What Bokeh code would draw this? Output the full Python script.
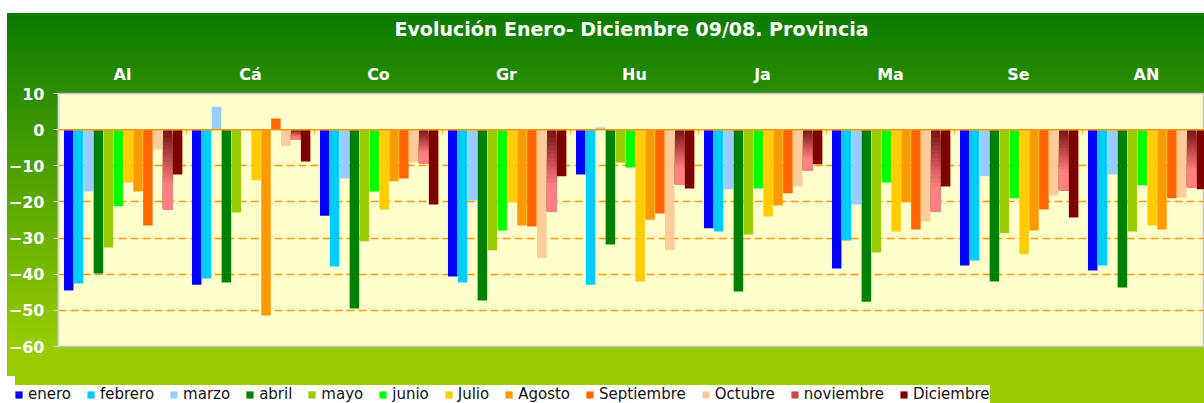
import numpy as np
from bokeh.plotting import figure
from bokeh.layouts import column
from bokeh.models import (ColumnDataSource, Range1d, FixedTicker, Legend,
                          LegendItem, Span)
from bokeh.embed import file_html
from bokeh.resources import INLINE

# ---------------- data ----------------
provincias = ["Al", "Cá", "Co", "Gr", "Hu", "Ja", "Ma", "Se", "AN"]
meses = ["enero", "febrero", "marzo", "abril", "mayo", "junio", "Julio",
         "Agosto", "Septiembre", "Octubre", "noviembre", "Diciembre"]

enero      = [-44.5, -42.9, -23.8, -40.6, -12.4, -27.3, -38.4, -37.6, -39.0]
febrero    = [-42.6, -41.2, -37.9, -42.3, -42.9, -28.2, -30.7, -36.2, -37.6]
marzo      = [-17.1,   6.3, -13.5, -19.6,   0.6, -16.5, -20.7, -12.9, -12.4]
abril      = [-39.8, -42.3, -49.5, -47.3, -31.8, -44.8, -47.6, -42.0, -43.7]
mayo       = [-32.6, -22.9, -30.9, -33.4,  -9.1, -29.0, -34.0, -28.7, -28.2]
junio      = [-21.2, float("nan"), -17.1, -27.9, -10.5, -16.3, -14.6, -19.0, -15.4]
julio      = [-14.6, -14.0, -22.1, -20.1, -42.0, -24.0, -28.2, -34.5, -26.5]
agosto     = [-17.1, -51.4, -14.3, -26.5, -24.9, -21.0, -20.1, -27.9, -27.6]
septiembre = [-26.5,   3.1, -13.5, -26.8, -23.2, -17.6, -27.6, -22.1, -19.0]
octubre    = [ -5.5,  -4.6,  -9.1, -35.6, -33.4, -15.7, -25.4, -18.2, -18.8]
noviembre  = [-22.1,  -2.9,  -9.4, -22.6, -15.2, -11.3, -22.6, -16.8, -16.0]
diciembre  = [-12.4,  -8.8, -20.7, -12.9, -16.3,  -9.6, -15.7, -24.3, -16.5]

series = [enero, febrero, marzo, abril, mayo, junio, julio, agosto,
          septiembre, octubre, noviembre, diciembre]
colores = ["#0000FF", "#00CCFF", "#99CCFF", "#008000", "#99CC00", "#00FF00",
           "#FFCC00", "#FF9900", "#FF6600", "#FFCC99", None, "#800000"]
nov_top, nov_bottom = (122, 16, 16), (255, 128, 128)
nov_legend = "#C24A4A"

y_ticks = [10, 0, -10, -20, -30, -40, -50, -60]
titulo = "Evolución Enero- Diciembre 09/08. Provincia"

# ---------------- layout constants ----------------
GROUP_PX = 128.0
FRAME_W = 1146
STEP = 9.9 / GROUP_PX
BAR_W = 9.5 / GROUP_PX
FIRST = 0.0797

p = figure(width=1204, height=376, output_backend="svg", toolbar_location=None,
           x_range=Range1d(0, FRAME_W / GROUP_PX), y_range=Range1d(-60, 10),
           x_axis_location="above",
           min_border_left=58, min_border_right=0, min_border_top=93,
           min_border_bottom=30)
p.frame_align = False
p.border_fill_color = None
p.background_fill_color = "#FFFFCC"
p.outline_line_color = "#C4C4C4"
p.outline_line_width = 1.5
p.styles = {"background":
            "linear-gradient(to right, #ffffff 0px, #ffffff 7px, rgba(255,255,255,0) 7px), "
            "linear-gradient(to bottom, #ffffff 0px, #ffffff 13px, "
            "#0a7a00 13px, #99cc00 346px, #99cc00 100%)"}

# grid
p.xgrid.visible = False
p.ygrid.ticker = FixedTicker(ticks=[-10, -20, -30, -40, -50])
p.ygrid.grid_line_color = "#FF9900"
p.ygrid.grid_line_dash = "8 4"
p.ygrid.grid_line_width = 1.3

# x axis (top, category labels) + title as axis label
xa = p.xaxis[0]
centers = [i + 0.5 for i in range(len(provincias))]
xa.ticker = FixedTicker(ticks=centers)
xa.major_label_overrides = {c: n for c, n in zip(centers, provincias)}
xa.axis_line_color = None
xa.major_tick_line_color = None
xa.minor_tick_line_color = None
xa.major_label_standoff = 4
xa.major_label_text_color = "white"
xa.major_label_text_font = "DejaVu Sans"
xa.major_label_text_font_style = "bold"
xa.major_label_text_font_size = "16px"
xa.axis_label = titulo
xa.axis_label_standoff = 22
xa.axis_label_text_color = "white"
xa.axis_label_text_font = "DejaVu Sans"
xa.axis_label_text_font_style = "bold"
xa.axis_label_text_font_size = "19px"

# y axis
ya = p.yaxis[0]
ya.ticker = FixedTicker(ticks=y_ticks)
ya.axis_line_color = "#D8D8D8"
ya.axis_line_width = 1.5
ya.major_tick_line_color = "#D8D8D8"
ya.major_tick_out = 5
ya.major_tick_in = 0
ya.minor_tick_line_color = None
ya.major_label_standoff = 9
ya.major_label_text_color = "white"
ya.major_label_text_font = "DejaVu Sans"
ya.major_label_text_font_style = "bold"
ya.major_label_text_font_size = "16px"

# bars
for k, (vals, col) in enumerate(zip(series, colores)):
    xs = [i + FIRST + k * STEP for i in range(len(provincias))]
    if col is not None:
        src = ColumnDataSource(dict(x=xs, top=vals))
        p.vbar(x="x", top="top", bottom=0, width=BAR_W, source=src,
               fill_color=col, line_color=None)
    else:
        n = 20
        gx, gt, gb, gc = [], [], [], []
        for x0, v in zip(xs, vals):
            for j in range(n):
                t = (j + 0.5) / n
                f = min(1.0, t / 0.7)
                rgb = tuple(int(round(a + (b - a) * f)) for a, b in zip(nov_top, nov_bottom))
                gx.append(x0)
                gt.append(v * j / n)
                gb.append(v)          # each slice runs to the bar end: no seams
                gc.append("#%02x%02x%02x" % rgb)
        src = ColumnDataSource(dict(x=gx, top=gt, bottom=gb, color=gc))
        p.vbar(x="x", top="top", bottom="bottom", width=BAR_W, source=src,
               fill_color="color", line_color=None)

# zero line and group tick marks
p.add_layout(Span(location=0, dimension="width", line_color="#FF9900", line_width=1.5))
bx = list(range(len(provincias) + 1))
p.segment(x0=bx, x1=bx, y0=[0] * len(bx), y1=[-4 / 3.6] * len(bx),
          line_color="#FFB040", line_width=1.5)

# ---------------- legend strip ----------------
q = figure(width=1204, height=27, output_backend="svg", toolbar_location=None,
           x_range=Range1d(0, 1), y_range=Range1d(0, 1),
           x_axis_location=None, y_axis_location=None,
           min_border_left=0, min_border_right=0, min_border_top=0,
           min_border_bottom=0)
q.frame_align = False
q.border_fill_color = None
q.background_fill_color = None
q.outline_line_color = None
q.grid.visible = False
q.styles = {"background":
            "linear-gradient(to right, #ffffff 0px, #ffffff 15px, #99cc00 15px, #99cc00 100%)"}

items = []
for m, col in zip(meses, colores):
    # legend swatch renderers: one point placed outside the visible range
    r = q.vbar(x=[5], top=[5], bottom=[4], width=0.1,
               fill_color=col or nov_legend, line_color=None)
    items.append(LegendItem(label=m, renderers=[r]))
legend = Legend(items=items, orientation="horizontal", location=(14, 0),
                background_fill_color="white", background_fill_alpha=1.0,
                border_line_color=None, padding=5, spacing=15, margin=0,
                glyph_width=9, glyph_height=9, label_standoff=5,
                label_text_font="DejaVu Sans", label_text_font_size="15px",
                label_text_color="#111111")
q.add_layout(legend)

page = column(p, q, spacing=0)
open("out.html", "w").write(file_html(page, INLINE))
